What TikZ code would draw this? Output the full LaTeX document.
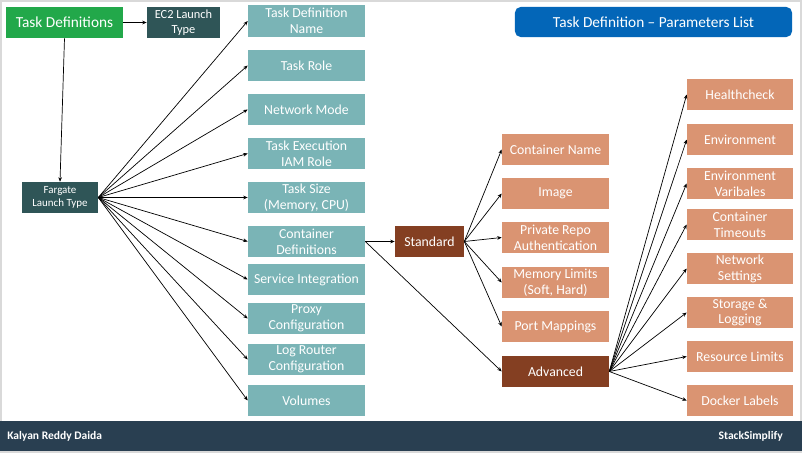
\documentclass[tikz,border=0pt]{standalone}
\usepackage{fontspec}
\setmainfont{Carlito}
\usepackage{xcolor}
\usetikzlibrary{positioning,arrows.meta}
\definecolor{frameGrey}{HTML}{D9D9D9}
\definecolor{footerNavy}{HTML}{293F51}
\definecolor{defGreen}{HTML}{22A84A}
\definecolor{launchTeal}{HTML}{2F5557}
\definecolor{paramTeal}{HTML}{7AB4B6}
\definecolor{stdBrown}{HTML}{843F22}
\definecolor{paramOrange}{HTML}{DA9472}
\definecolor{titleBlue}{HTML}{0366B8}

\tikzset{
  box/.style={text=white, inner sep=0pt, align=center, minimum height=0.775cm,
              font=\fontsize{9.8}{11.3}\selectfont},
  launchbox/.style={box, fill=launchTeal},
  tealbox/.style={box, fill=paramTeal, minimum width=2.925cm},
  stdbox/.style={box, fill=paramOrange, minimum width=2.675cm},
  advbox/.style={box, fill=paramOrange, minimum width=2.65cm},
  brownbox/.style={box, fill=stdBrown},
  footnote/.style={text=white, inner sep=0pt, font=\fontsize{8.2}{9}\selectfont\bfseries},
  link/.style={-{Stealth[length=3.2pt,width=2.6pt]}, line width=0.5pt}
}

\begin{document}
\begin{tikzpicture}[x=0.025cm, y=-0.025cm]
  % frame and footer
  \fill[frameGrey] (0,0) rectangle (802,453);
  \fill[white] (2,2) rectangle (800,421);
  \fill[footerNavy] (0,421) rectangle (802,451);
  \node[footnote, anchor=west] (author) at (7,436) {Kalyan Reddy Daida};
  \node[footnote, anchor=east] (brand) at (783,436) {StackSimplify};

  % title
  \node[fill=titleBlue, rounded corners=4pt, text=white, minimum width=6.925cm,
        minimum height=0.75cm, inner sep=0pt, font=\fontsize{10.9}{12}\selectfont] (title) at (653.5,22)
   {Task Definition -- Parameters List};

  % launch types
  \node[box, fill=defGreen, minimum width=2.925cm, font=\fontsize{10.9}{12}\selectfont] (taskdefs) at (64.5,22.5) {Task Definitions};
  \node[launchbox, minimum width=1.825cm, font=\fontsize{8.8}{10.5}\selectfont] (ec2) at (183.5,22.5) {EC2 Launch\\Type};
  \node[launchbox, minimum width=1.9cm, font=\fontsize{7.8}{9.5}\selectfont] (fargate) at (60,197.5) {Fargate\\Launch Type};

  % task definition parameters
  \node[tealbox] (tdname)  at (306.5,21)    {Task Definition\\Name};
  \node[tealbox] (role)    at (306.5,65.5)  {Task Role};
  \node[tealbox] (netmode) at (306.5,109.5) {Network Mode};
  \node[tealbox] (execrole) at (306.5,153.5) {Task Execution\\IAM Role};
  \node[tealbox] (size)    at (306.5,197.5) {Task Size\\(Memory, CPU)};
  \node[tealbox] (contdefs) at (306.5,241.5) {Container\\Definitions};
  \node[tealbox] (service) at (306.5,279.5) {Service Integration};
  \node[tealbox] (proxy)   at (306.5,318.5) {Proxy\\Configuration};
  \node[tealbox] (logrouter) at (306.5,359.5) {Log Router\\Configuration};
  \node[tealbox] (volumes) at (306.5,400.5) {Volumes};

  % container definitions
  \node[brownbox, minimum width=1.725cm] (standard) at (429.5,241.5) {Standard};
  \node[stdbox] (contname) at (555.5,149.5) {Container Name};
  \node[stdbox] (image)    at (555.5,193.5) {Image};
  \node[stdbox] (repoauth) at (555.5,237.5) {Private Repo\\Authentication};
  \node[stdbox] (memlimits) at (555.5,282.5) {Memory Limits\\(Soft, Hard)};
  \node[stdbox] (ports)    at (555.5,326.5) {Port Mappings};
  \node[brownbox, minimum width=2.675cm] (advanced) at (555.5,371.5) {Advanced};

  \node[advbox] (health)   at (740,94.5)  {Healthcheck};
  \node[advbox] (env)      at (740,139.5) {Environment};
  \node[advbox] (envvars)  at (740,183.5) {Environment\\Varibales};
  \node[advbox] (timeouts) at (740,224.5) {Container\\Timeouts};
  \node[advbox] (netset)   at (740,268.5) {Network\\Settings};
  \node[advbox] (storage)  at (740,312.5) {Storage \&\\Logging};
  \node[advbox] (reslimits) at (740,356.5) {Resource Limits};
  \node[advbox] (labels)   at (740,400.5) {Docker Labels};

  % connectors
  \draw[link] (taskdefs) -- (ec2);
  \draw[link] (taskdefs.south) -- (fargate.north);
  \foreach \p in {tdname,role,netmode,execrole,size,contdefs,service,proxy,logrouter,volumes}
    \draw[link] (fargate.east) -- (\p.west);
  \draw[link] (contdefs.east) -- (standard.west);
  \draw[link] (contdefs.east) -- (advanced.west);
  \foreach \p in {contname,image,repoauth,memlimits,ports}
    \draw[link] (standard.east) -- (\p.west);
  \foreach \p in {health,env,envvars,timeouts,netset,storage,reslimits,labels}
    \draw[link] (advanced.east) -- (\p.west);
\end{tikzpicture}
\end{document}
